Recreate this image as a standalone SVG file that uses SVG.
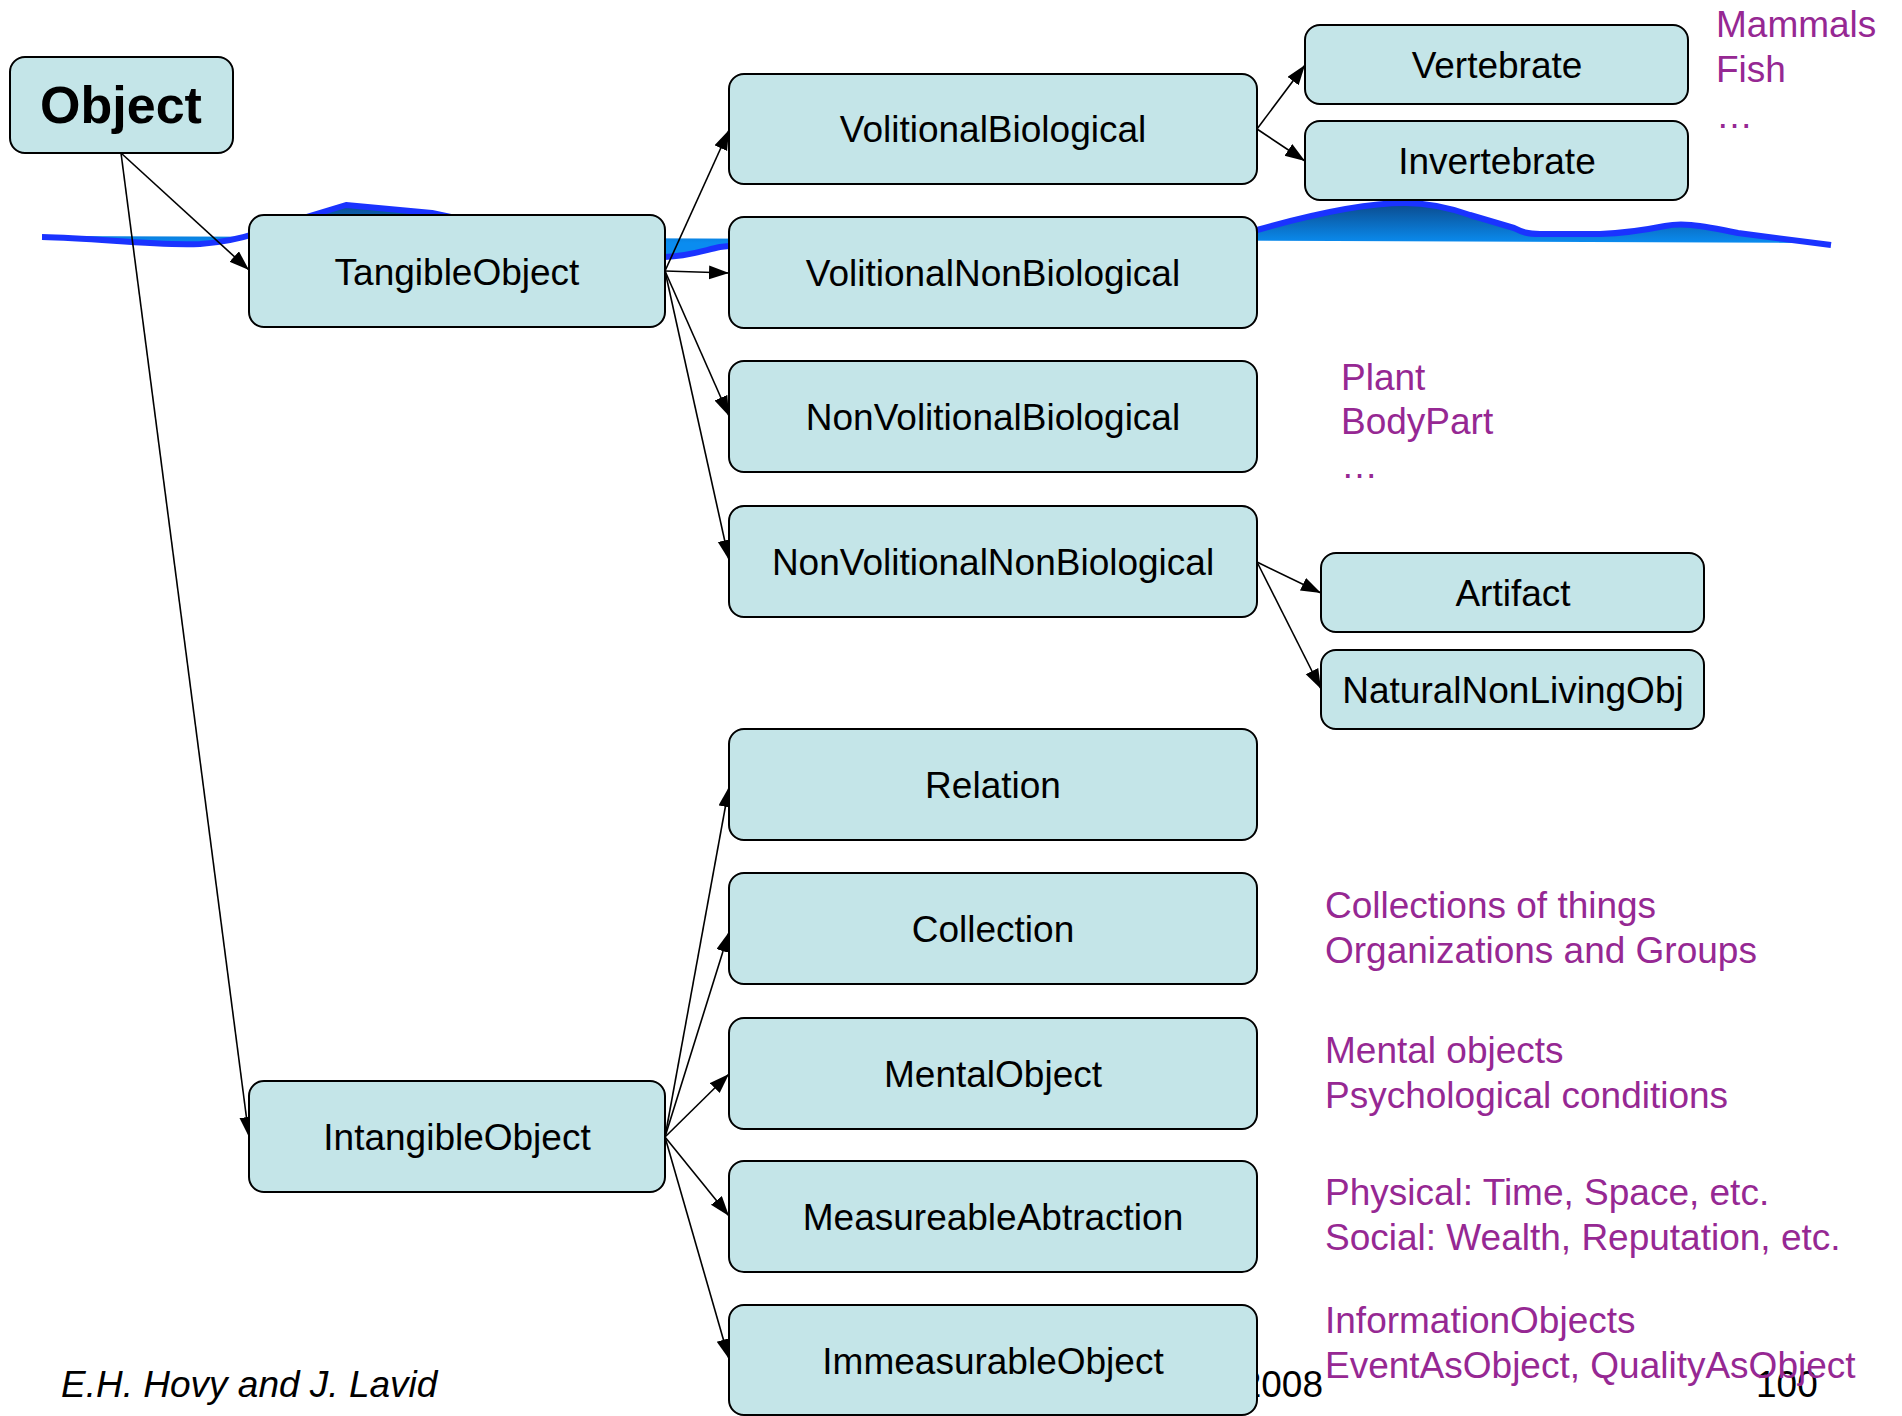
<svg xmlns="http://www.w3.org/2000/svg" width="1902" height="1416" viewBox="0 0 1902 1416">
  <defs>
    <style>
      .node rect { fill: #c4e5e8; stroke: #000; stroke-width: 2; }
      .node text { font-family: "Liberation Sans", Arial, sans-serif; font-size: 37px; fill: #000; text-anchor: middle; }
      .edge { stroke: #000; stroke-width: 1.6; fill: none; marker-end: url(#arrow); }
      .note { font-family: "Liberation Sans", Arial, sans-serif; font-size: 37px; fill: #962893; }
      .foot { font-family: "Liberation Sans", Arial, sans-serif; font-size: 37px; fill: #000; }
    </style>
    <marker id="arrow" markerUnits="userSpaceOnUse" markerWidth="22" markerHeight="16" refX="20" refY="7" orient="auto">
      <path d="M0,0 L20,7 L0,14 Z" fill="#000"/>
    </marker>
    <linearGradient id="water" gradientUnits="userSpaceOnUse" x1="0" y1="203" x2="0" y2="243">
      <stop offset="0" stop-color="#0b4a8c"/>
      <stop offset="1" stop-color="#0a8cf0"/>
    </linearGradient>
  </defs>

  <!-- horizon wave -->
  <g id="horizon">
    <path fill="url(#water)" d="M42,237 C100,238 150,246 200,244 Q240,241 270,228 L346,205 L432,213 L560,240 L665,257 C690,256 705,250 720,247 L729,246 L1257,230 C1320,212 1370,203 1405,203 C1430,203 1450,208 1470,215 L1514,228 C1522,232 1527,234 1540,234 L1600,234 C1630,233 1650,229 1665,226 C1680,223 1695,224 1738,233 L1831,245 L1831,243 L42,236 Z"/>
    <path fill="none" stroke="#1a33ff" stroke-width="6" stroke-linejoin="round" d="M42,237 C100,238 150,246 200,244 Q240,241 270,228 L346,205 L432,213 L560,240 L665,257 C690,256 705,250 720,247 L729,246 L1257,230 C1320,212 1370,203 1405,203 C1430,203 1450,208 1470,215 L1514,228 C1522,232 1527,234 1540,234 L1600,234 C1630,233 1650,229 1665,226 C1680,223 1695,224 1738,233 L1831,245"/>
  </g>

  <!-- footer -->
  <g id="footer">
    <text class="foot" x="61" y="1397" font-style="italic">E.H. Hovy and J. Lavid</text>
    <text class="foot" x="1323" y="1397" text-anchor="end">2008</text>
    <text class="foot" x="1756" y="1397">100</text>
  </g>

  <!-- connectors -->
  <g id="connectors">
    <line class="edge" x1="121" y1="153" x2="249" y2="270"/>
    <line class="edge" x1="121" y1="153" x2="249" y2="1137"/>
    <line class="edge" x1="665" y1="271" x2="729" y2="130"/>
    <line class="edge" x1="665" y1="271" x2="729" y2="273"/>
    <line class="edge" x1="665" y1="271" x2="729" y2="416"/>
    <line class="edge" x1="665" y1="271" x2="729" y2="560"/>
    <line class="edge" x1="1257" y1="129" x2="1305" y2="65"/>
    <line class="edge" x1="1257" y1="129" x2="1305" y2="161"/>
    <line class="edge" x1="1257" y1="562" x2="1321" y2="593"/>
    <line class="edge" x1="1257" y1="562" x2="1321" y2="689"/>
    <line class="edge" x1="665" y1="1137" x2="729" y2="787"/>
    <line class="edge" x1="665" y1="1137" x2="729" y2="932"/>
    <line class="edge" x1="665" y1="1137" x2="729" y2="1074"/>
    <line class="edge" x1="665" y1="1137" x2="729" y2="1216"/>
    <line class="edge" x1="665" y1="1137" x2="729" y2="1359"/>
  </g>

  <!-- nodes -->
  <g id="n-object" class="node">
    <rect x="10" y="57" width="223" height="96" rx="15"/>
    <text x="121" y="123" style="font-size:52px;font-weight:bold">Object</text>
  </g>
  <g id="n-tangible" class="node">
    <rect x="249" y="215" width="416" height="112" rx="15"/>
    <text x="457" y="285">TangibleObject</text>
  </g>
  <g id="n-intangible" class="node">
    <rect x="249" y="1081" width="416" height="111" rx="15"/>
    <text x="457" y="1150">IntangibleObject</text>
  </g>
  <g id="n-volbio" class="node">
    <rect x="729" y="74" width="528" height="110" rx="15"/>
    <text x="993" y="142">VolitionalBiological</text>
  </g>
  <g id="n-volnonbio" class="node">
    <rect x="729" y="217" width="528" height="111" rx="15"/>
    <text x="993" y="286">VolitionalNonBiological</text>
  </g>
  <g id="n-nonvolbio" class="node">
    <rect x="729" y="361" width="528" height="111" rx="15"/>
    <text x="993" y="430">NonVolitionalBiological</text>
  </g>
  <g id="n-nonvolnonbio" class="node">
    <rect x="729" y="506" width="528" height="111" rx="15"/>
    <text x="993" y="575">NonVolitionalNonBiological</text>
  </g>
  <g id="n-relation" class="node">
    <rect x="729" y="729" width="528" height="111" rx="15"/>
    <text x="993" y="798">Relation</text>
  </g>
  <g id="n-collection" class="node">
    <rect x="729" y="873" width="528" height="111" rx="15"/>
    <text x="993" y="942">Collection</text>
  </g>
  <g id="n-mental" class="node">
    <rect x="729" y="1018" width="528" height="111" rx="15"/>
    <text x="993" y="1087">MentalObject</text>
  </g>
  <g id="n-measureable" class="node">
    <rect x="729" y="1161" width="528" height="111" rx="15"/>
    <text x="993" y="1230">MeasureableAbtraction</text>
  </g>
  <g id="n-immeasurable" class="node">
    <rect x="729" y="1305" width="528" height="110" rx="15"/>
    <text x="993" y="1374">ImmeasurableObject</text>
  </g>
  <g id="n-vertebrate" class="node">
    <rect x="1305" y="25" width="383" height="79" rx="15"/>
    <text x="1497" y="78">Vertebrate</text>
  </g>
  <g id="n-invertebrate" class="node">
    <rect x="1305" y="121" width="383" height="79" rx="15"/>
    <text x="1497" y="174">Invertebrate</text>
  </g>
  <g id="n-artifact" class="node">
    <rect x="1321" y="553" width="383" height="79" rx="15"/>
    <text x="1513" y="606">Artifact</text>
  </g>
  <g id="n-natural" class="node">
    <rect x="1321" y="650" width="383" height="79" rx="15"/>
    <text x="1513" y="703">NaturalNonLivingObj</text>
  </g>

  <!-- example annotations -->
  <g id="notes">
    <text class="note" x="1716" y="37">Mammals</text>
    <text class="note" x="1716" y="82">Fish</text>
    <text class="note" x="1716" y="128">…</text>
    <text class="note" x="1341" y="390">Plant</text>
    <text class="note" x="1341" y="434">BodyPart</text>
    <text class="note" x="1341" y="478">…</text>
    <text class="note" x="1325" y="918">Collections of things</text>
    <text class="note" x="1325" y="963">Organizations and Groups</text>
    <text class="note" x="1325" y="1063">Mental objects</text>
    <text class="note" x="1325" y="1108">Psychological conditions</text>
    <text class="note" x="1325" y="1205">Physical: Time, Space, etc.</text>
    <text class="note" x="1325" y="1250">Social: Wealth, Reputation, etc.</text>
    <text class="note" x="1325" y="1333">InformationObjects</text>
    <text class="note" x="1325" y="1378">EventAsObject, QualityAsObject</text>
  </g>
</svg>
